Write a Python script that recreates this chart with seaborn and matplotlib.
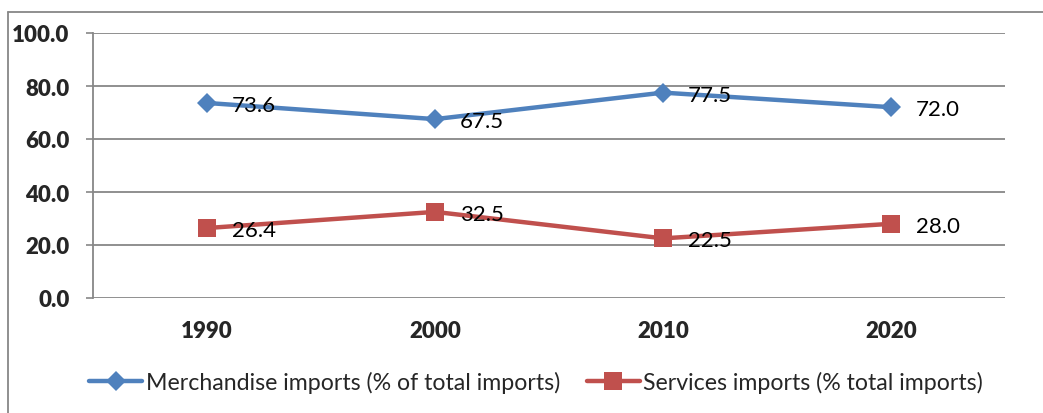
import matplotlib
matplotlib.use("Agg")
import matplotlib.pyplot as plt
from matplotlib.lines import Line2D
import seaborn as sns
import pandas as pd

years = ["1990", "2000", "2010", "2020"]
merchandise = [73.6, 67.5, 77.5, 72.0]
services = [26.4, 32.5, 22.5, 28.0]
series_names = ["Merchandise imports (% of total imports)",
                "Services imports (% total imports)"]

sns.set_theme(style="white")
plt.rcParams['font.family'] = ['Lato', 'DejaVu Sans']

fig = plt.figure(figsize=(10.43, 4.14), dpi=100)
ax = fig.add_axes([93/1043, 1 - 299/414, (1005 - 93)/1043, (299 - 34)/414])

blue = "#4F81BD"
red = "#C0504D"
grid_c = "#878787"

df_m = pd.DataFrame({"year": years, "value": merchandise})
df_s = pd.DataFrame({"year": years, "value": services})

sns.lineplot(data=df_m, x="year", y="value", ax=ax, color=blue, lw=3.2,
             marker="D", markersize=10, markeredgewidth=0,
             label=series_names[0], sort=False)
sns.lineplot(data=df_s, x="year", y="value", ax=ax, color=red, lw=3.2,
             marker="s", markersize=13, markeredgewidth=0,
             label=series_names[1], sort=False)

for i, v in enumerate(merchandise):
    ax.annotate(f"{v:.1f}", (i, v), xytext=(18, -1.5), textcoords="offset points",
                ha="left", va="center", fontsize=16, color="black")
for i, v in enumerate(services):
    ax.annotate(f"{v:.1f}", (i, v), xytext=(18, -1.5), textcoords="offset points",
                ha="left", va="center", fontsize=16, color="black")

ax.set_ylim(0, 100)
ax.set_xlim(-0.5, 3.5)
ax.set_yticks([0, 20, 40, 60, 80, 100])
ax.set_yticklabels([f"{t:.1f}" for t in [0, 20, 40, 60, 80, 100]],
                   fontsize=16, fontweight="heavy")
ax.set_xticks(range(len(years)))
ax.set_xticklabels(years, fontsize=16, fontweight="heavy")
ax.set_xticks([-0.5, 0.5, 1.5, 2.5, 3.5], minor=True)
ax.tick_params(axis="x", which="major", length=0, pad=16)
ax.tick_params(axis="x", which="minor", length=5, width=1.2, color=grid_c, direction="out")
ax.tick_params(axis="y", which="major", length=5, width=1.2, color=grid_c,
               direction="out", pad=12, left=True)
ax.set_xlabel("")
ax.set_ylabel("")

ax.grid(axis="y", color=grid_c, lw=1.3)
ax.set_axisbelow(True)
for s in ["top", "right", "bottom"]:
    ax.spines[s].set_visible(False)
ax.spines["left"].set_color(grid_c)
ax.spines["left"].set_linewidth(1.3)

ax.legend_.remove()
handles = [Line2D([], [], color=blue, lw=3.2, marker="D", markersize=10, markeredgewidth=0),
           Line2D([], [], color=red, lw=3.2, marker="s", markersize=13, markeredgewidth=0)]
fig.legend(handles, series_names, loc="center", bbox_to_anchor=(536/1043, 1 - 383/414),
           ncol=2, frameon=False, fontsize=16.7, handlelength=2.3, handletextpad=0.15,
           columnspacing=1.15)

# chart border
fig.add_artist(Line2D([8/1043, 1], [1 - 13/414, 1 - 13/414], color=grid_c, lw=1.3,
                      transform=fig.transFigure))
fig.add_artist(Line2D([8/1043, 8/1043], [0, 1 - 13/414], color=grid_c, lw=1.3,
                      transform=fig.transFigure))

fig.savefig("out.png", dpi=100)
